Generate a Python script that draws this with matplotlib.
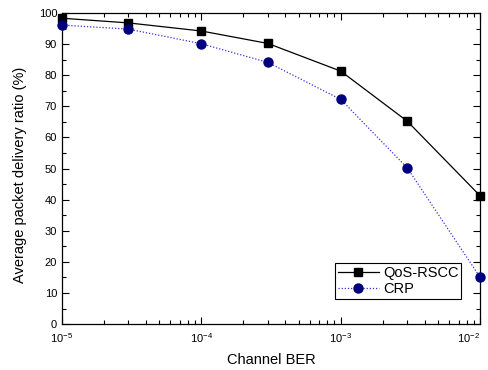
import matplotlib
matplotlib.use("Agg")
import matplotlib.pyplot as plt
from matplotlib.ticker import LogLocator, MultipleLocator, NullFormatter

plt.rcParams['font.family'] = ['Liberation Sans', 'DejaVu Sans']
plt.rcParams['mathtext.fontset'] = 'custom'
plt.rcParams['mathtext.rm'] = 'Liberation Sans'
plt.rcParams['mathtext.it'] = 'Liberation Sans'

ber = [1e-5, 3e-5, 1e-4, 3e-4, 1e-3, 3e-3, 1e-2]
qos_rscc = [98.3, 96.8, 94.2, 90.2, 81.3, 65.2, 41.2]
crp = [96.1, 94.8, 90.1, 84.1, 72.2, 50.2, 15.0]
series_labels = ["QoS-RSCC", "CRP"]

fig = plt.figure(figsize=(4.88, 3.70), dpi=100)
ax = fig.add_axes([0.127, 0.124, 0.857, 0.841])

ax.plot(ber, qos_rscc, color='black', lw=0.9, marker='s', ms=5.5,
        mfc='black', mec='black', label=series_labels[0], clip_on=False, zorder=3)
ax.plot(ber, crp, color='#3535d5', lw=0.9, ls=(0, (1, 1.5)), marker='o', ms=6.5,
        mfc='#00007f', mec='#00007f', label=series_labels[1], clip_on=False, zorder=3)

ax.set_xscale('log')
ax.set_xlim(1e-5, 1e-2)
ax.set_ylim(0, 100)
ax.yaxis.set_major_locator(MultipleLocator(10))
ax.yaxis.set_minor_locator(MultipleLocator(5))
ax.xaxis.set_major_locator(LogLocator(base=10, numticks=10))
ax.xaxis.set_minor_locator(LogLocator(base=10, subs=range(2, 10), numticks=20))
ax.xaxis.set_minor_formatter(NullFormatter())

ax.tick_params(which='both', direction='in', top=True, right=True, labelsize=8, width=0.8)
ax.tick_params(which='major', length=5)
ax.tick_params(which='minor', length=3)
ax.tick_params(axis='x', which='major', pad=5)
for s in ax.spines.values():
    s.set_linewidth(0.9)

ax.set_xlabel("Channel BER", fontsize=10.5, labelpad=6)
ax.set_ylabel("Average packet delivery ratio (%)", fontsize=10.5)
ax.yaxis.set_label_coords(-0.083, 0.479)

leg = ax.legend(loc='lower right', bbox_to_anchor=(0.955, 0.08), fontsize=10.5,
                frameon=True, fancybox=False, edgecolor='black', framealpha=1,
                borderpad=0.2, handlelength=2.8, labelspacing=0.15, handletextpad=0.3,
                borderaxespad=0)
leg.get_frame().set_linewidth(0.8)

# keep the last x tick label inside the figure
fig.canvas.draw()
for t in ax.xaxis.get_major_ticks():
    if abs(t.get_loc() - 1e-2) < 1e-9:
        t.label1.set_horizontalalignment('right')

fig.savefig("out.png", dpi=100)
